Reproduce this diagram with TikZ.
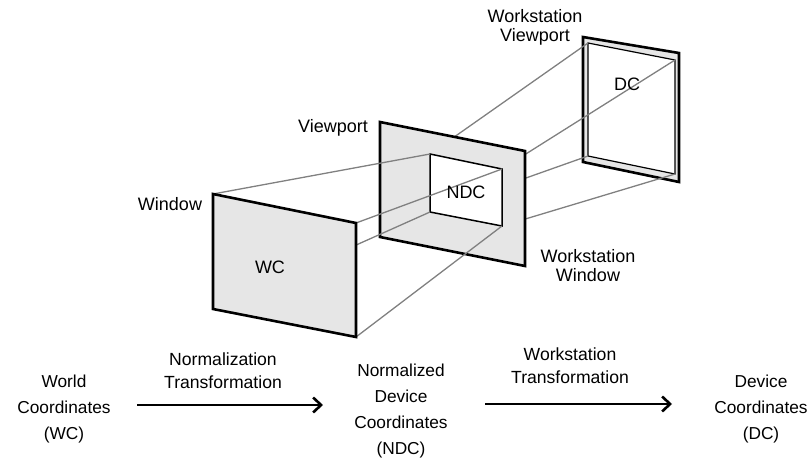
\documentclass[tikz,border=0pt]{standalone}
\usepackage{fontspec}
\setmainfont{Liberation Sans}
\usetikzlibrary{arrows.meta,positioning}
\definecolor{panelgray}{RGB}{230,230,230}
\definecolor{raygray}{RGB}{128,128,128}
\tikzset{panel/.style={draw=black, line width=2.6pt, fill=panelgray},
  hole/.style={draw=black, line width=1.5pt, fill=white},
  ray/.style={draw=raygray, line width=1.3pt},
  lbl/.style={font=\fontsize{18}{19}\selectfont, align=center, inner sep=0pt},
  stage/.style={font=\fontsize{17.3}{26}\selectfont, align=center, inner sep=0pt},
  trans/.style={font=\fontsize{17.6}{23}\selectfont, align=center, inner sep=0pt},
  bigarrow/.style={line width=2.6pt, -{Straight Barb[length=8pt,width=15pt]}}}

\begin{document}
\begin{tikzpicture}[x=1pt,y=-1pt]
    \useasboundingbox (0,0) rectangle (809,458);
    % corners: window (w), viewport (v), NDC hole (n), device (d), DC hole (e)
    \coordinate (w1) at (213,194); \coordinate (w2) at (356,223);
    \coordinate (w3) at (356,337); \coordinate (w4) at (213,309);
    \coordinate (v1) at (380,122); \coordinate (v2) at (525,151);
    \coordinate (v3) at (525,266); \coordinate (v4) at (380,237);
    \coordinate (n1) at (430,154); \coordinate (n2) at (502,169);
    \coordinate (n3) at (502,226); \coordinate (n4) at (430,212);
    \coordinate (d1) at (583,37);  \coordinate (d2) at (679,53);
    \coordinate (d3) at (679,182); \coordinate (d4) at (583,162);
    \coordinate (e1) at (588,43);  \coordinate (e2) at (675,60);
    \coordinate (e3) at (675,174); \coordinate (e4) at (588,156);

    % device plane, then rays to it
    \draw[panel] (d1) -- (d2) -- (d3) -- (d4) -- cycle;
    \draw[hole, line width=1.2pt] (e1) -- (e2) -- (e3) -- (e4) -- cycle;
    \foreach \i in {1,...,4} \draw[ray] (n\i) -- (e\i);

    % viewport plane, then rays from the window
    \draw[panel] (v1) -- (v2) -- (v3) -- (v4) -- cycle;
    \draw[hole] (n1) -- (n2) -- (n3) -- (n4) -- cycle;
    \foreach \i in {1,...,4} \draw[ray] (w\i) -- (n\i);
    \draw[panel] (w1) -- (w2) -- (w3) -- (w4) -- cycle;

    \node[lbl] (WC) at (270,267) {WC};
    \node[lbl] (NDC) at (466,192) {NDC};
    \node[lbl] (DC) at (627,84) {DC};
    \node[lbl] (winlbl) at (170,204) {Window};
    \node[lbl] (vplbl) at (333,128) {Viewport};
    \node[lbl] (wsvplbl) at (535,27) {Workstation\\Viewport};
    \node[lbl] (wswinlbl) at (588,266) {Workstation\\Window};

    % the pipeline
    \node[stage] (wc) at (64,409) {World\\Coordinates\\(WC)};
    \node[stage] (ndc) at (401,411) {Normalized\\Device\\Coordinates\\(NDC)};
    \node[stage] (dc) at (761,409) {Device\\Coordinates\\(DC)};
    \coordinate (a1s) at (137,405); \coordinate (a1e) at (323,405);
    \coordinate (a2s) at (485,404); \coordinate (a2e) at (672,404);
    \draw[bigarrow] (a1s) -- (a1e);
    \draw[bigarrow] (a2s) -- (a2e);
    \node[trans] (normt) at (223,371) {Normalization\\Transformation};
    \node[trans] (wst) at (570,366) {Workstation\\Transformation};
\end{tikzpicture}
\end{document}
